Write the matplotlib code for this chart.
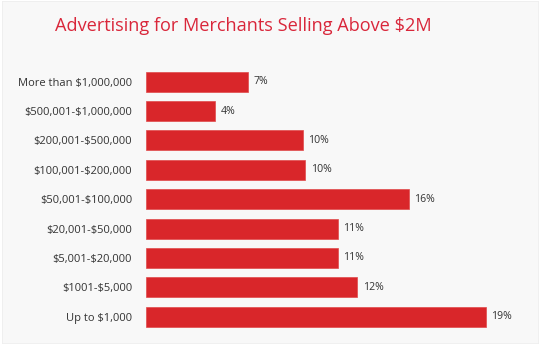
import matplotlib.pyplot as plt

# =====================================
# Data (top to bottom)
# =====================================
categories = [
    "More than $1,000,000",
    "$500,001-$1,000,000",
    "$200,001-$500,000",
    "$100,001-$200,000",
    "$50,001-$100,000",
    "$20,001-$50,000",
    "$5,001-$20,000",
    "$1001-$5,000",
    "Up to $1,000",
]
bar_lengths = [5.7, 3.85, 8.75, 8.9, 14.7, 10.7, 10.7, 11.8, 19.0]
value_labels = ["7%", "4%", "10%", "10%", "16%", "11%", "11%", "12%", "19%"]

plt.rcParams['font.family'] = ['Open Sans', 'DejaVu Sans']
plt.rcParams['text.parse_math'] = False

fig = plt.figure(figsize=(5.6, 3.47), dpi=100)
fig.patch.set_facecolor("white")

# light grey panel behind everything
bg = fig.add_axes([0.004, 0.012, 0.956, 0.986], zorder=-10)
bg.set_facecolor("#f8f8f8")
bg.set_xticks([])
bg.set_yticks([])
for s in bg.spines.values():
    s.set_color("#eeeeee")
    s.set_linewidth(0.6)

fig.text(0.434, 0.925, "Advertising for Merchants Selling Above $2M",
         color="#d9263a", fontsize=13.1, ha="center", va="center")

ax = fig.add_axes([146 / 560, 0.045, 358 / 560, 0.762])
ax.set_facecolor("none")

ypos = list(range(len(categories)))
ax.barh(ypos, bar_lengths, height=0.68, color="#d9262a", edgecolor="#e04a4a", linewidth=0.5)

for y, v, lab in zip(ypos, bar_lengths, value_labels):
    ax.text(v + 0.3, y, lab, va="center", ha="left", fontsize=7.6, color="#333333")

ax.set_xlim(0, 20)
ax.set_ylim(8.5, -0.5)
ax.set_yticks(ypos)
ax.set_yticklabels(categories, fontsize=8.0, color="#333333")
ax.tick_params(axis="y", length=0, pad=10)
ax.set_xticks([])
for s in ax.spines.values():
    s.set_visible(False)

fig.savefig("out.png", dpi=100)
